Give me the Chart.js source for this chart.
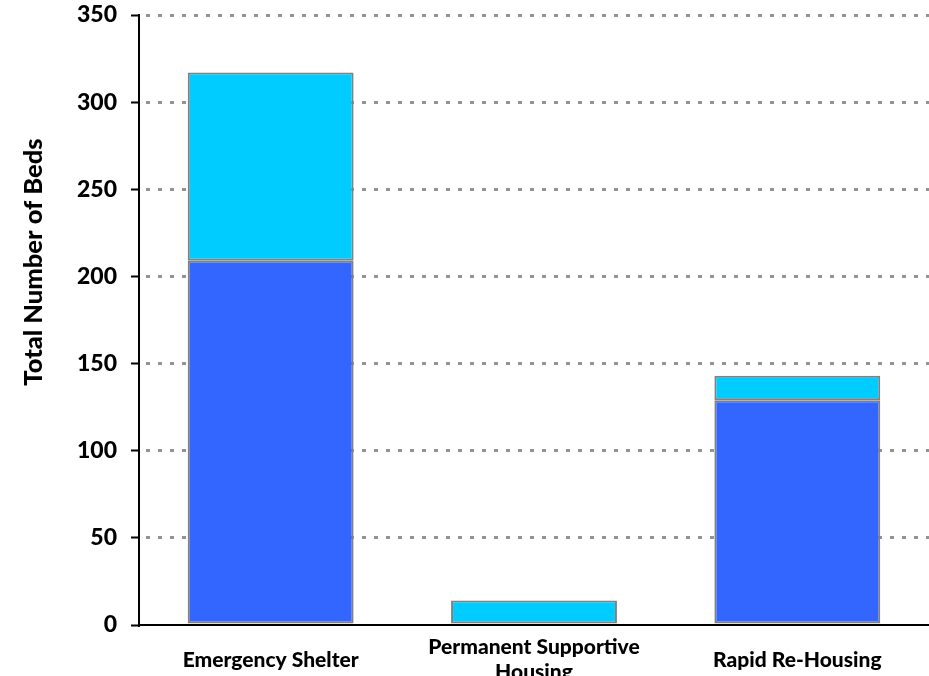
<!DOCTYPE html>
<html>
<head>
<meta charset="utf-8">
<script src="https://cdn.jsdelivr.net/npm/chart.js@4.4.1/dist/chart.umd.min.js"></script>
<style>
  html, body { margin: 0; padding: 0; background: #fff; overflow: hidden; }
</style>
</head>
<body>
<canvas id="bedsChart" width="929" height="676"></canvas>
<script>
// data
const categories = ["Emergency Shelter", ["Permanent Supportive", "Housing"], "Rapid Re-Housing"];
const familyBeds = [209, 0, 129];
const adultBeds = [108, 14, 14];
const yTicks = [0, 50, 100, 150, 200, 250, 300, 350];
const yTitle = "Total Number of Beds";

const fontName = "Lato";

// axis title sits a bit above the middle of the axis, like the original
const yTitlePlugin = {
  id: "yTitle",
  afterDraw(chart) {
    const ctx = chart.ctx;
    const area = chart.chartArea;
    ctx.save();
    ctx.translate(34, area.top + (area.bottom - area.top) * 0.405);
    ctx.rotate(-Math.PI / 2);
    ctx.font = "900 25.5px " + fontName;
    ctx.fillStyle = "#000";
    ctx.textAlign = "center";
    ctx.textBaseline = "middle";
    ctx.fillText(yTitle, 0, 0);
    ctx.restore();
  },
};

let bedsChart = new Chart(document.getElementById("bedsChart"), {
  type: "bar",
  data: {
    labels: categories,
    datasets: [
      {
        label: "Beds for Households with Children",
        data: familyBeds,
        backgroundColor: "#3366FF",
        borderColor: "#808080",
        borderWidth: 2,
        borderSkipped: false,
      },
      {
        label: "Beds for Households without Children",
        data: adultBeds,
        backgroundColor: "#00CCFF",
        borderColor: "#808080",
        borderWidth: 2,
        borderSkipped: false,
      },
    ],
  },
  plugins: [yTitlePlugin],
  options: {
    responsive: false,
    animation: false,
    devicePixelRatio: 1,
    layout: { padding: { top: 15, right: 0, bottom: 0, left: 0 } },
    plugins: {
      legend: { display: false },
      tooltip: { enabled: false },
    },
    datasets: {
      bar: { categoryPercentage: 1, barPercentage: 0.63 },
    },
    scales: {
      x: {
        stacked: true,
        grid: { display: false, drawTicks: false },
        border: { display: true, color: "#000", width: 2 },
        ticks: {
          color: "#000",
          font: { family: fontName, weight: "900", size: 21, lineHeight: 1.2 },
          padding: 22.5,
          crossAlign: "center",
          maxRotation: 0,
          autoSkip: false,
        },
        afterFit: (scale) => {
          scale.height = 51;
          scale.paddingTop = 0;
          scale.paddingBottom = 0;
        },
      },
      y: {
        stacked: true,
        min: 0,
        max: 350,
        afterBuildTicks: (scale) => {
          scale.ticks = yTicks.map((v) => ({ value: v }));
        },
        grid: {
          color: (ctx) => (ctx.tick && ctx.tick.value === 0 ? "rgba(0,0,0,0)" : "#939393"),
          lineWidth: 3,
          drawTicks: true,
          tickLength: 8,
          tickColor: "#000",
          tickWidth: 2,
        },
        border: { display: true, color: "#000", width: 2, dash: [4, 8], dashOffset: -6 },
        ticks: {
          color: "#000",
          font: { family: fontName, weight: "900", size: 23 },
          padding: 14,
        },
        afterFit: (scale) => {
          scale.width = 139;
          scale.paddingTop = 0;
          scale.paddingBottom = 0;
        },
      },
    },
  },
});
</script>
</body>
</html>
